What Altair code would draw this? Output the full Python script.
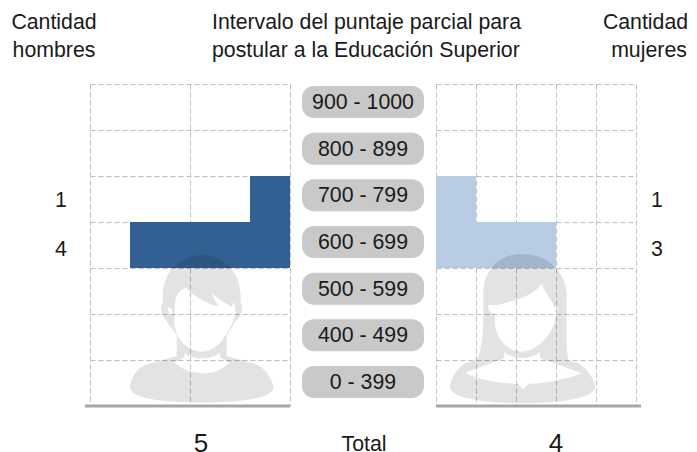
import altair as alt
import pandas as pd

FONT = "Liberation Sans"
intervals = ["900 - 1000", "800 - 899", "700 - 799", "600 - 699", "500 - 599", "400 - 499", "0 - 399"]
men = [0, 0, 1, 4, 0, 0, 0]
women = [0, 0, 1, 3, 0, 0, 0]
title_left = ["Cantidad", "hombres"]
title_mid = ["Intervalo del puntaje parcial para", "postular a la Educación Superior"]
title_right = ["Cantidad", "mujeres"]
total_label = "Total"

MAN_PATH = [
    "M 230 15 C 160 15 115 70 113 135 L 113 160 C 105 165 105 195 125 212 C 130 225 145 240 155 255 L 155 318 L 60 345 C 30 360 15 390 15 415 C 20 445 110 458 230 458 C 350 458 440 445 445 415 C 445 395 430 365 400 345 L 305 318 L 305 255 C 318 240 325 225 332 212 C 355 195 355 165 347 160 L 347 135 C 345 70 300 15 230 15 Z",
    "M 150 165 C 150 135 165 115 185 115 C 205 140 245 160 280 170 L 260 130 C 285 150 310 165 320 170 L 326 157 C 332 170 332 185 330 195 C 320 230 315 235 300 258 C 285 285 255 305 230 305 C 200 305 170 285 155 250 C 145 225 148 195 150 165 Z",
    "M 178 308 C 200 330 260 330 285 308 L 285 322 L 312 338 C 270 385 190 375 148 338 L 178 322 Z",
    "M 128 170 L 140 178 L 143 195 C 135 195 128 185 128 170 Z",
]
WOMAN_PATH = [
    "M 230 12 C 160 12 115 65 115 130 C 115 200 118 290 95 330 L 60 340 C 25 365 15 395 15 415 C 25 445 120 460 232 460 C 345 460 440 445 450 415 C 450 390 430 360 400 340 L 370 330 C 362 290 365 200 365 130 C 360 60 305 12 230 12 Z",
    "M 160 165 L 215 150 C 245 140 275 125 290 100 C 300 130 320 150 328 170 L 340 175 L 335 192 L 330 210 C 320 260 270 305 230 305 C 190 305 150 265 150 215 L 150 192 C 135 190 128 180 130 165 Z",
    "M 60 368 L 178 325 L 178 305 C 200 330 265 330 285 305 L 285 325 L 410 370 C 350 395 280 400 250 402 L 235 418 L 220 402 C 170 400 100 390 60 368 Z",
]


def to_unit(parts, cx, cy, half):
    out = []
    for part in parts:
        toks = part.split()
        res, is_x = [], True
        for t in toks:
            if t.isalpha():
                res.append(t)
                is_x = True
            else:
                v = float(t)
                res.append(f"{(v - cx) / half:.4f}" if is_x else f"{(v - cy) / half:.4f}")
                is_x = not is_x
        out.append(" ".join(res))
    return " ".join(out)


df = pd.DataFrame({"interval": intervals, "men": men, "women": women})
df["row"] = range(len(df))
df["row2"] = df["row"] + 1
df["mid"] = df["row"] + 0.5
df["pill_top"] = df["mid"] - 0.343
df["pill_bot"] = df["mid"] + 0.343

W, H = 200, 322
FS = 21.3
BAND = {"domain": False, "ticks": False, "labels": False, "title": None,
        "grid": True, "gridColor": "#bcbcbc", "gridDash": [5, 3], "gridWidth": 1}
y_axis = alt.Axis(values=list(range(8)), **BAND)
y_scale = alt.Scale(domain=[7, 0], nice=False, zero=False)
label_scale = alt.Scale(domain=[6.684, 0.113], nice=False, zero=False)
pill_scale = alt.Scale(domain=[7.014, 0.114], nice=False, zero=False)
single = alt.Data(values=[{"k": 0}])


def txt(rows, size=FS, align="center"):
    d = pd.DataFrame(rows)
    return alt.Chart(d).mark_text(font=FONT, fontSize=size, color="#1a1a1a", align=align, baseline="middle").encode(
        x=alt.X("px:Q", scale=None), y=alt.Y("py:Q", scale=None), text="t:N")


def side(col, color, x_scale, x_ticks, sil_path, sil_x, sil_y, sil_size, rule_x, rule_x2, lab_x):
    rows = df[df[col] > 0]
    bars = alt.Chart(rows).mark_rect(color=color).encode(
        x=alt.X(f"{col}:Q", scale=x_scale, axis=alt.Axis(values=x_ticks, **BAND)),
        x2=alt.datum(0),
        y=alt.Y("row:Q", scale=y_scale, axis=y_axis),
        y2="row2:Q",
    )
    sil = alt.Chart(single).mark_point(shape=sil_path, size=sil_size, filled=True, fill="#000000",
                                       opacity=0.11, strokeWidth=0).encode(
        x=alt.value(sil_x), y=alt.value(sil_y))
    base_rule = alt.Chart(single).mark_rule(color="#a6a6a6", strokeWidth=3).encode(
        x=alt.value(rule_x), x2=alt.value(rule_x2), y=alt.value(322))
    labels = alt.Chart(rows).mark_text(font=FONT, fontSize=FS, color="#1a1a1a").encode(
        x=alt.value(lab_x), y=alt.Y("mid:Q", scale=label_scale, axis=None), text=f"{col}:Q")
    return alt.layer(bars, sil, base_rule, labels).resolve_scale(y="independent")


left = side("men", "#336092", alt.Scale(domain=[5, 0], nice=False, zero=False), [0, 2.5, 5],
            to_unit(MAN_PATH, 230, 236.5, 221.5), 111.7, 244.8, 21800, -5, 200, -29)
left = alt.layer(left,
                 txt([{"px": -36, "py": -61, "t": title_left[0]}, {"px": -36, "py": -33, "t": title_left[1]}]),
                 txt([{"px": 111, "py": 360, "t": str(sum(men))}], size=26)).properties(width=W, height=H)

pills = alt.Chart(df).mark_rect(color="#c9c9c9", cornerRadius=12).encode(
    x=alt.value(12), x2=alt.value(134),
    y=alt.Y("pill_top:Q", scale=pill_scale, axis=None), y2="pill_bot:Q")
pill_txt = alt.Chart(df).mark_text(font=FONT, fontSize=FS, color="#1a1a1a", dy=1).encode(
    x=alt.value(73), y=alt.Y("mid:Q", scale=pill_scale, axis=None), text="interval:N")
mid = alt.layer(pills, pill_txt,
                txt([{"px": -78, "py": -61, "t": title_mid[0]}, {"px": -78, "py": -33, "t": title_mid[1]}], align="left"),
                txt([{"px": 74, "py": 361, "t": total_label}])).properties(width=146, height=H)

right = side("women", "#b8cce4", alt.Scale(domain=[0, 5], nice=False, zero=False), [0, 1, 2, 3, 4, 5],
             to_unit(WOMAN_PATH, 232.5, 236, 224), 445 + 232.5 / 3 - 436, 250 + 236 / 3 - 84, 22300, 0, 205, 221)
right = alt.layer(right,
                  txt([{"px": 209.5, "py": -61, "t": title_right[0]}, {"px": 213, "py": -33, "t": title_right[1]}]),
                  txt([{"px": 120, "py": 360, "t": str(sum(women))}], size=26)).properties(width=W, height=H)

chart = alt.hconcat(left, mid, right, spacing=0, bounds="flush",
                    padding={"left": 3, "top": 4, "right": 0, "bottom": 3}).configure_view(stroke=None)
chart.save("out.html", embed_options={"renderer": "svg", "actions": False})
